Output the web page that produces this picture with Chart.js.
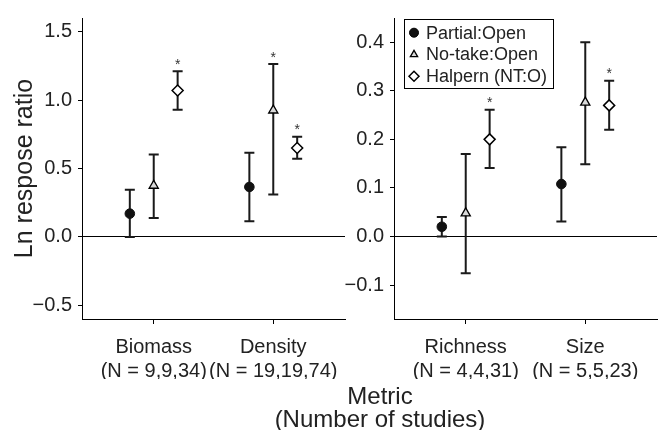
<!DOCTYPE html>
<html>
<head>
<meta charset="utf-8">
<script src="https://cdn.jsdelivr.net/npm/chart.js@4.4.0/dist/chart.umd.min.js"></script>
<style>
  body { margin: 0; background: #fff; }
  #wrap { position: relative; width: 669px; height: 430px; overflow: hidden; font-family: 'Liberation Sans', Arial, sans-serif; color: #222; }
  #left { position: absolute; left: 0; top: 0; }
  #right { position: absolute; left: 330px; top: 0; }
  #xtitle { position: absolute; left: 230px; width: 300px; top: 384px; text-align: center; font-size: 24px; line-height: 23px; }
</style>
</head>
<body>
<div id="wrap">
  <canvas id="left" width="380" height="430"></canvas>
  <canvas id="right" width="339" height="430"></canvas>
  <div id="xtitle">Metric<br>(Number of studies)</div>
</div>
<script>
// Metrics and study counts (x-axis categories)
const metrics = ['Biomass', 'Density', 'Richness', 'Size'];
const studyCounts = ['(N = 9,9,34)', '(N = 19,19,74)', '(N = 4,4,31)', '(N = 5,5,23)'];

// Comparison groups
const groups = ['Partial:Open', 'No-take:Open', 'Halpern (NT:O)'];

// Mean ln response ratio and interval bounds per metric
const partialMean = [0.17, 0.365, 0.02, 0.108];
const partialLow  = [0.0, 0.115, 0.0, 0.031];
const partialHigh = [0.345, 0.615, 0.04, 0.184];

const notakeMean = [0.375, 0.925, 0.048, 0.276];
const notakeLow  = [0.139, 0.31, -0.076, 0.149];
const notakeHigh = [0.603, 1.263, 0.17, 0.40];

const halpernMean = [1.07, 0.65, 0.2, 0.27];
const halpernLow  = [0.93, 0.572, 0.141, 0.22];
const halpernHigh = [1.21, 0.732, 0.261, 0.321];

// Significance stars
const notakeStar  = [false, true, false, false];
const halpernStar = [true, true, true, true];
const partialStar = [false, false, false, false];

// Y tick labels for each panel
const leftTicks  = [-0.5, 0, 0.5, 1.0, 1.5];
const rightTicks = [-0.1, 0, 0.1, 0.2, 0.3, 0.4];

const dodge = [-0.2, 0, 0.2];
const textColor = '#222';
const fontFamily = "'Liberation Sans', Arial, sans-serif";

// Draw the vertical error bars with caps, plus the stars
const errorBars = {
    id: 'errorBars',
    beforeDatasetsDraw(chart) {
        const { ctx, scales: { x, y } } = chart;
        ctx.save();
        ctx.strokeStyle = '#1a1a1a';
        ctx.lineWidth = 2;
        ctx.fillStyle = '#333';
        ctx.font = '14px ' + fontFamily;
        ctx.textAlign = 'center';
        ctx.textBaseline = 'alphabetic';
        chart.data.datasets.forEach(ds => {
            ds.data.forEach(p => {
                const px = x.getPixelForValue(p.x);
                const top = y.getPixelForValue(p.hi);
                const bot = y.getPixelForValue(p.lo);
                ctx.beginPath();
                ctx.moveTo(px, top); ctx.lineTo(px, bot);
                ctx.moveTo(px - 5, top); ctx.lineTo(px + 5, top);
                ctx.moveTo(px - 5, bot); ctx.lineTo(px + 5, bot);
                ctx.stroke();
                if (p.star) ctx.fillText('*', px, top - 2.5);
            });
        });
        ctx.restore();
    }
};

// Boxed legend drawn inside the right panel
const boxLegend = {
    id: 'boxLegend',
    afterDraw(chart) {
        const { ctx, chartArea } = chart;
        const left = chartArea.left + 10, top = chartArea.top + 1;
        const w = 149, h = 69;
        const sizes = [4.5, 4.2, 5];
        ctx.save();
        ctx.fillStyle = '#fff';
        ctx.fillRect(left, top, w, h);
        ctx.strokeStyle = '#000';
        ctx.lineWidth = 1;
        ctx.strokeRect(left + 0.5, top + 0.5, w, h);
        chart.data.datasets.forEach((ds, i) => {
            const cy = top + 13.7 + i * 21.8;
            ctx.fillStyle = ds.backgroundColor;
            ctx.strokeStyle = '#000';
            ctx.lineWidth = ds.borderWidth;
            Chart.helpers.drawPoint(ctx, { pointStyle: ds.pointStyle, radius: sizes[i], borderWidth: ds.borderWidth, rotation: 0 }, left + 10, cy);
            ctx.fillStyle = textColor;
            ctx.font = '18px ' + fontFamily;
            ctx.textAlign = 'left';
            ctx.textBaseline = 'middle';
            ctx.fillText(ds.label, left + 22, cy + 1);
        });
        ctx.restore();
    }
};

function points(idx, g, mean, low, high, star) {
    return idx.map((m, i) => ({ x: i + 1 + dodge[g], y: mean[m], lo: low[m], hi: high[m], star: star[m] }));
}

function fmt(v) {
    return (v < 0 ? '\u2212' : '') + Math.abs(v).toFixed(1);
}

function makePanel(canvasId, idx, yMin, yMax, yTicks, yWidth, padRight, withTitle, extraPlugins) {
    const ctx = document.getElementById(canvasId).getContext('2d');
    return new Chart(ctx, {
        type: 'scatter',
        data: {
            datasets: [
                {
                    label: groups[0],
                    data: points(idx, 0, partialMean, partialLow, partialHigh, partialStar),
                    pointStyle: 'circle', pointRadius: 4.8,
                    backgroundColor: '#111', borderColor: '#111', borderWidth: 1
                },
                {
                    label: groups[1],
                    data: points(idx, 1, notakeMean, notakeLow, notakeHigh, notakeStar),
                    pointStyle: 'triangle', pointRadius: 5.3,
                    backgroundColor: '#d9d9d9', borderColor: '#000', borderWidth: 1.3
                },
                {
                    label: groups[2],
                    data: points(idx, 2, halpernMean, halpernLow, halpernHigh, halpernStar),
                    pointStyle: 'rectRot', pointRadius: 5.5,
                    backgroundColor: '#fff', borderColor: '#000', borderWidth: 1.5
                }
            ]
        },
        options: {
            responsive: false,
            animation: false,
            events: [],
            layout: { padding: { top: 12, right: padRight, left: 0, bottom: 51 } },
            plugins: { legend: { display: false }, tooltip: { enabled: false } },
            scales: {
                x: {
                    type: 'linear', min: 0.4, max: 2.6,
                    afterBuildTicks: s => { s.ticks = [{ value: 1 }, { value: 2 }]; },
                    afterFit: s => { s.height = 60; },
                    ticks: {
                        color: textColor, font: { size: 20, family: fontFamily, lineHeight: 1.17 },
                        maxRotation: 0, autoSkip: false, padding: 12,
                        callback: v => [metrics[idx[v - 1]], studyCounts[idx[v - 1]]]
                    },
                    grid: { drawOnChartArea: false, color: '#000', tickLength: 5 },
                    border: { color: '#000', width: 1 }
                },
                y: {
                    min: yMin, max: yMax,
                    afterBuildTicks: s => { s.ticks = yTicks.map(v => ({ value: v })); },
                    afterFit: s => { s.width = yWidth; },
                    ticks: { color: textColor, font: { size: 20, family: fontFamily }, padding: 6, callback: v => fmt(v) },
                    grid: {
                        color: c => (c.tick && c.tick.value === 0 ? '#000' : 'rgba(0,0,0,0)'),
                        tickColor: '#000', tickLength: 4, lineWidth: 1
                    },
                    border: { color: '#000', width: 1 },
                    title: {
                        display: withTitle, text: 'Ln respose ratio', color: textColor,
                        font: { size: 25, family: fontFamily }, padding: { top: 10, bottom: 0 }
                    }
                }
            }
        },
        plugins: [errorBars].concat(extraPlugins)
    });
}

makePanel('left', [0, 1], -0.6, 1.6, leftTicks, 82, 35, true, []);
makePanel('right', [2, 3], -0.17, 0.45, rightTicks, 64, 12, false, [boxLegend]);
</script>
</body>
</html>
